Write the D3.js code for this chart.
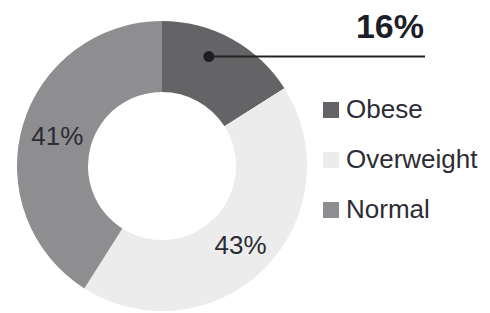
<!DOCTYPE html>
<html>
<head>
<meta charset="utf-8">
<script src="https://cdn.jsdelivr.net/npm/d3@7"></script>
<style>
  body { margin: 0; background: #fff; }
  svg { display: block; font-family: Arial, "Liberation Sans", sans-serif; }
</style>
</head>
<body>
<svg id="chart" width="490" height="313"></svg>
<script>
var categories = ['Obese', 'Overweight', 'Normal'];
var values = [16, 43, 41];
var labels = ['16%', '43%', '41%'];
var colors = ['#646466', '#ececec', '#8e8e90'];

var svg = d3.select('#chart');
var cx = 162, cy = 166;
var outer_r = 145, inner_r = 74;

var color = d3.scaleOrdinal().domain(categories).range(colors);

var pie = d3.pie().sort(null).value(function(d){ return d.value; });
var data = categories.map(function(c, i){ return {name: c, value: values[i], label: labels[i]}; });
var arcs = pie(data);

var arc = d3.arc().innerRadius(inner_r).outerRadius(outer_r);

var g = svg.append('g').attr('transform', 'translate(' + cx + ',' + cy + ')');

g.selectAll('path')
  .data(arcs)
  .enter()
  .append('path')
  .attr('d', arc)
  .attr('fill', function(d){ return color(d.data.name); });

// inner labels for the two big slices
var label_r = {'Overweight': 111, 'Normal': 109};
g.selectAll('text.slice-label')
  .data(arcs.filter(function(d){ return d.data.name !== 'Obese'; }))
  .enter()
  .append('text')
  .classed('slice-label', true)
  .attr('transform', function(d){
    var r = label_r[d.data.name];
    var a = d3.arc().innerRadius(r).outerRadius(r);
    return 'translate(' + a.centroid(d) + ')';
  })
  .attr('text-anchor', 'middle')
  .attr('dy', '0.35em')
  .style('font-size', '26px')
  .style('fill', '#2c2c34')
  .text(function(d){ return d.data.label; });

// callout for obese slice
var obese = arcs[0];
var dot_arc = d3.arc().innerRadius(118).outerRadius(118);
var dot = dot_arc.centroid(obese);
var dot_x = cx + dot[0] - 10, dot_y = cy + dot[1] - 6;

svg.append('line')
  .attr('x1', dot_x).attr('y1', dot_y)
  .attr('x2', 425).attr('y2', dot_y)
  .attr('stroke', '#222')
  .attr('stroke-width', 2);

svg.append('circle')
  .attr('cx', dot_x).attr('cy', dot_y)
  .attr('r', 5.5)
  .attr('fill', '#1e1e22');

svg.append('text')
  .attr('x', 424).attr('y', 38)
  .attr('text-anchor', 'end')
  .style('font-size', '34px')
  .style('font-weight', 700)
  .style('fill', '#1e1e28')
  .text(obese.data.label);

// legend
var legend = svg.append('g').attr('transform', 'translate(323,102)');
var legend_items = legend.selectAll('g')
  .data(categories)
  .enter()
  .append('g')
  .attr('transform', function(d, i){ return 'translate(0,' + (i * 50) + ')'; });

legend_items.append('rect')
  .attr('width', 16).attr('height', 16)
  .attr('fill', function(d){ return color(d); });

legend_items.append('text')
  .attr('x', 23).attr('y', 16)
  .style('font-size', '26px')
  .style('fill', '#2c2c34')
  .text(function(d){ return d; });
</script>
</body>
</html>
